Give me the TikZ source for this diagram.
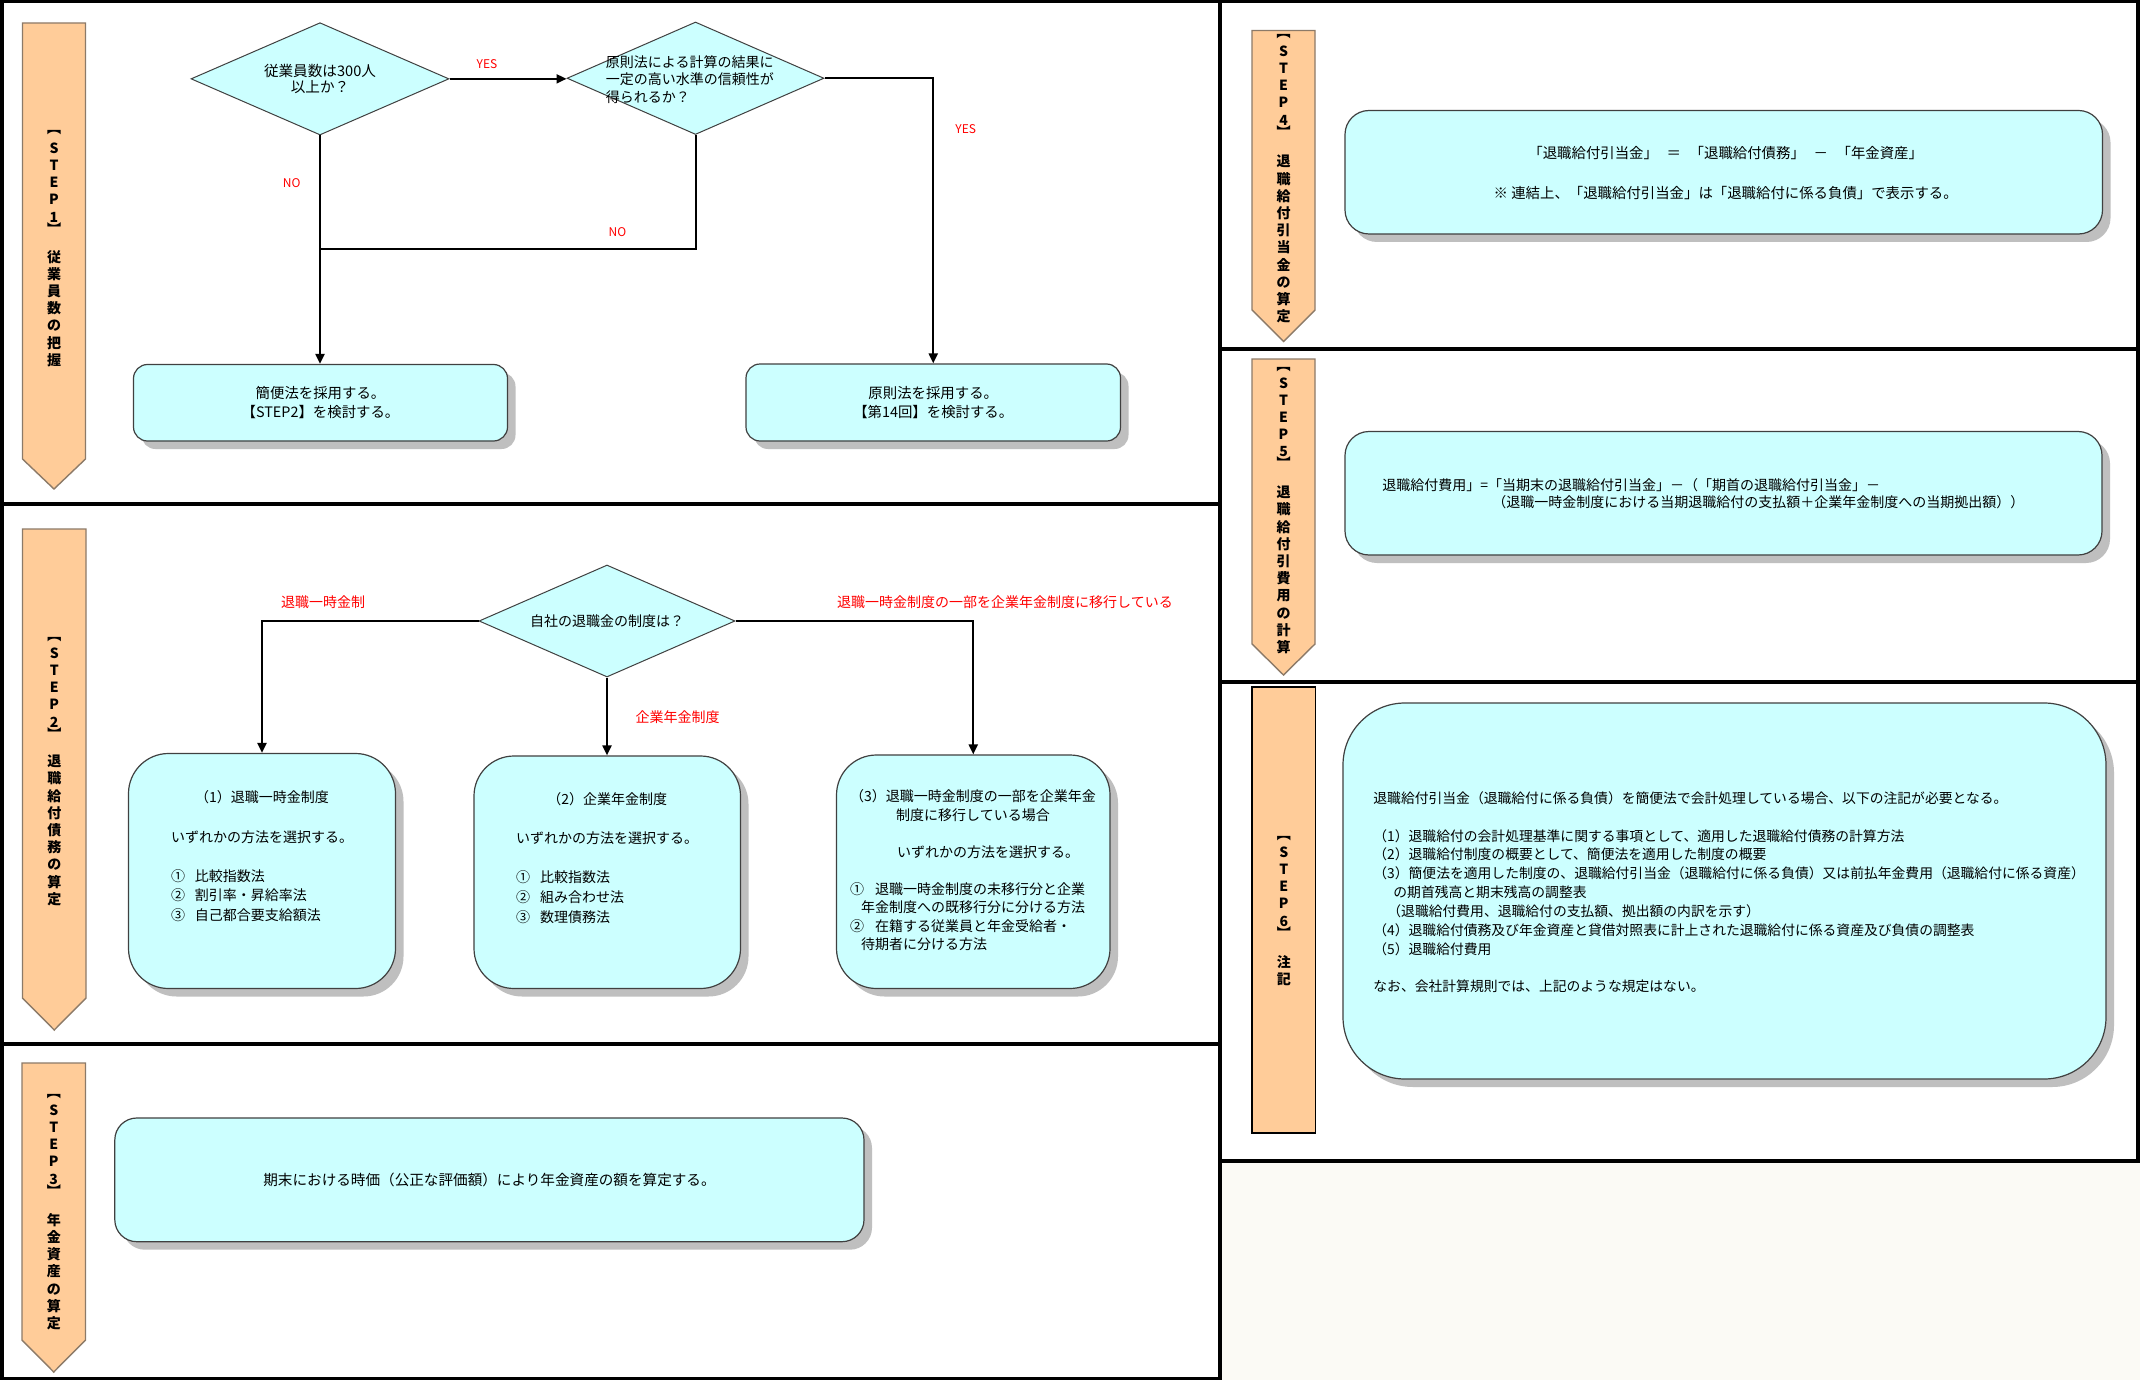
\documentclass[tikz,border=0pt]{standalone}
\usepackage{fontspec}
\setmainfont{Noto Sans CJK JP}
\usetikzlibrary{arrows.meta,shapes.geometric,shadows}
\definecolor{cyanfill}{HTML}{CCFFFF}
\definecolor{orangefill}{HTML}{FFCC99}
\definecolor{bannerline}{RGB}{140,122,104}
\definecolor{offwhite}{HTML}{FBFAF5}
\definecolor{shadowgray}{HTML}{BFBFBF}
\definecolor{boxline}{HTML}{404040}
\definecolor{labelred}{HTML}{FF0000}
\newcommand\mytabc[1]{\begin{tabular}{@{}c@{}}#1\end{tabular}}
\newcommand\mytabl[1]{\begin{tabular}{@{}l@{}}#1\end{tabular}}
\newcommand\stepbanner[5]{\filldraw[bannerst] (#1,#3) -- (#2,#3) -- (#2,#4) -- ({(#1+#2)/2},#5) -- (#1,#4) -- cycle;}
\newcommand\steplabels[8]{%
  \node[bantext] (#1a) at (#2,#3) {︻};
  \node[bantext] (#1b) at (#2,#4) {\mytabc{S\\T\\E\\P\\#5}};
  \node[bantext] (#1c) at (#2,#6) {︼};
  \node[bantext] (#1d) at (#2,#7) {\mytabc{#8}};}
\begin{document}
\begin{tikzpicture}[x=0.5pt,y=-0.5pt,
  panel/.style={line width=2pt,draw=black},
  bannerst/.style={fill=orangefill,draw=bannerline,line width=0.7pt},
  rbox/.style={draw=boxline,line width=0.6pt,fill=cyanfill,rectangle,inner sep=0pt,
    drop shadow={shadow xshift=4pt,shadow yshift=-4pt,fill=shadowgray,opacity=1}},
  dia/.style={diamond,draw=boxline,line width=0.5pt,fill=cyanfill,inner sep=0pt},
  conn/.style={line width=1pt,draw=black},
  arr/.style={conn,-{Triangle[length=5pt,width=4.5pt]}},
  yn/.style={text=labelred,font=\fontsize{6}{7}\selectfont,inner sep=0pt},
  rlab/.style={text=labelred,font=\fontsize{7}{8}\selectfont,inner sep=0pt},
  txt/.style={inner sep=0pt},
  bantext/.style={inner sep=0pt,font=\bfseries\fontsize{7}{8.6}\selectfont},
]
\useasboundingbox (0,0) rectangle (2140,1380);
\fill[white] (0,0) rectangle (2140,1380);
\fill[offwhite] (1222,1163) rectangle (2140,1380);
% panels
\draw[panel] (1.5,1.5) rectangle (1220,1378.5);
\draw[panel] (0,504) -- (1220,504);
\draw[panel] (0,1044) -- (1220,1044);
\draw[panel] (1220,1.5) -- (2137.5,1.5) -- (2137.5,1161) -- (1220,1161);
\draw[panel] (1220,349) -- (2137.5,349);
\draw[panel] (1220,682) -- (2137.5,682);
% banners
\stepbanner{22.5}{85.5}{23}{459}{489}
\stepbanner{22.5}{86}{529}{998}{1030}
\stepbanner{22}{85.5}{1063}{1340}{1372}
\stepbanner{1252}{1315}{30.5}{310}{341.5}
\stepbanner{1252}{1315}{359}{644}{675}
\filldraw[bannerst,draw=black] (1252,687) rectangle (1315.5,1133);
\steplabels{st1}{54}{133}{184.3}{1}{229}{310.3}{従\\業\\員\\数\\の\\把\\握}
\steplabels{st2}{54.25}{640}{689.3}{2}{733.4}{832.1}{退\\職\\給\\付\\債\\務\\の\\算\\定}
\steplabels{st3}{53.75}{1097}{1146.2}{3}{1190.2}{1273.5}{年\\金\\資\\産\\の\\算\\定}
\steplabels{st4}{1283.5}{37}{87.2}{4}{131.2}{240.8}{退\\職\\給\\付\\引\\当\\金\\の\\算\\定}
\steplabels{st5}{1283.5}{370}{419}{5}{463}{571.7}{退\\職\\給\\付\\引\\費\\用\\の\\計\\算}
\steplabels{st6}{1283.75}{839}{888.2}{6}{932.2}{972.7}{注\\記}
% boxes
\node[rbox,rounded corners=7pt,minimum width=187pt,minimum height=38.25pt] (ba) at (320.5,402.75) {};
\node[rbox,rounded corners=7pt,minimum width=187.25pt,minimum height=38.5pt] (bb) at (933.25,402.5) {};
\node[rbox,rounded corners=20pt,minimum width=133.5pt,minimum height=117.5pt] (b1) at (262,871) {};
\node[rbox,rounded corners=20pt,minimum width=133.25pt,minimum height=116.25pt] (b2) at (607.25,872.25) {};
\node[rbox,rounded corners=20pt,minimum width=136.75pt,minimum height=116.75pt] (b3) at (973.25,871.75) {};
\node[rbox,rounded corners=11pt,minimum width=374.6pt,minimum height=61.85pt] (s3b) at (489.4,1179.85) {};
\node[rbox,rounded corners=12pt,minimum width=378.75pt,minimum height=61.75pt] (s4b) at (1723.75,172.25) {};
\node[rbox,rounded corners=12pt,minimum width=378.5pt,minimum height=61.75pt] (s5b) at (1723.5,493.25) {};
\node[rbox,rounded corners=31pt,minimum width=381.5pt,minimum height=188pt] (s6b) at (1724.5,891) {};
% diamonds
\node[dia,minimum width=129pt,minimum height=56.15pt] (d1) at (320,78.85) {};
\node[dia,minimum width=128.5pt,minimum height=56.25pt] (d2) at (695.5,78.25) {};
\node[dia,minimum width=128pt,minimum height=56pt] (d3) at (607,621) {};
% connectors
\coordinate (j1) at (320,249);
\draw[arr] (d1.east) -- (d1.east -| d2.west);
\draw[arr] (d1.south) -- (d1.south |- ba.north);
\draw[conn] (d2.south) |- (j1);
\draw[arr] (d2.east) -| (bb.north);
\draw[arr] (d3.west) -| (b1.north);
\draw[arr] (d3.south) -- (d3.south |- b2.north);
\draw[arr] (d3.east) -| (b3.north);
% labels
\node[yn] (yes1) at (487,64.3) {YES};
\node[yn] (no1) at (291.7,183.3) {NO};
\node[yn] (no2) at (617.5,231.7) {NO};
\node[yn] (yes2) at (965.7,129.3) {YES};
\node[rlab] (l1) at (323,602) {退職一時金制};
\node[rlab] (l2) at (677.5,717) {企業年金制度};
\node[rlab] (l3) at (1005,602) {退職一時金制度の一部を企業年金制度に移行している};
% texts
\node[txt,font=\fontsize{7.3}{6}\selectfont] (d1t) at (320,80.1) {\mytabc{従業員数は300人\\以上か？}};
\node[txt,anchor=west,font=\fontsize{7}{8.75}\selectfont] (d2t) at (605.5,81.25) {\mytabl{原則法による計算の結果に\\一定の高い水準の信頼性が\\得られるか？}};
\node[txt,font=\fontsize{7}{9.5}\selectfont] (d3t) at (607,621) {自社の退職金の制度は？};
\node[txt,font=\fontsize{7.2}{9.5}\selectfont] (bat) at (320.5,404.1) {\mytabc{簡便法を採用する。\\【STEP2】を検討する。}};
\node[txt,font=\fontsize{7.2}{9.5}\selectfont] (bbt) at (933.25,404.6) {\mytabc{原則法を採用する。\\【第14回】を検討する。}};
\node[txt,font=\fontsize{7}{9.8}\selectfont] (b1t) at (262,857.8) {\mytabl{\multicolumn{1}{@{}c@{}}{（1）退職一時金制度}\\ \\ いずれかの方法を選択する。\\ \\ ①\hspace{5pt}比較指数法\\ ②\hspace{5pt}割引率・昇給率法\\ ③\hspace{5pt}自己都合要支給額法}};
\node[txt,font=\fontsize{7}{9.8}\selectfont] (b2t) at (607.2,859.3) {\mytabl{\multicolumn{1}{@{}c@{}}{（2）企業年金制度}\\ \\ いずれかの方法を選択する。\\ \\ ①\hspace{5pt}比較指数法\\ ②\hspace{5pt}組み合わせ法\\ ③\hspace{5pt}数理債務法}};
\node[txt,font=\fontsize{7}{9.25}\selectfont] (b3t) at (973,872) {\mytabl{（3）退職一時金制度の一部を企業年金\\ \multicolumn{1}{@{}c@{}}{制度に移行している場合}\\ \\ \hspace{23.5pt}いずれかの方法を選択する。\\ \\ ①\hspace{5.5pt}退職一時金制度の未移行分と企業\\ \hspace{5.5pt}年金制度への既移行分に分ける方法\\ ②\hspace{5.5pt}在籍する従業員と年金受給者・\\ \hspace{5.5pt}待期者に分ける方法}};
\node[txt,font=\fontsize{7.3}{9}\selectfont] (s3t) at (489.5,1180) {期末における時価（公正な評価額）により年金資産の額を算定する。};
\node[txt,font=\fontsize{7.2}{9.925}\selectfont] (s4t) at (1725.7,174.3) {\mytabc{「退職給付引当金」\hspace{0.6em}＝\hspace{0.6em}「退職給付債務」\hspace{0.6em}－\hspace{0.6em}「年金資産」\\ \\ ※ 連結上、「退職給付引当金」は「退職給付に係る負債」で表示する。}};
\node[txt,anchor=west,font=\fontsize{7}{8.15}\selectfont] (s5t) at (1382,495.8) {\mytabl{退職給付費用」=「当期末の退職給付引当金」－（「期首の退職給付引当金」－\\ \hspace{55pt}（退職一時金制度における当期退職給付の支払額＋企業年金制度への当期拠出額））}};
\node[txt,anchor=west,font=\fontsize{6.9}{9.42}\selectfont] (s6t) at (1373,893.9) {\mytabl{退職給付引当金（退職給付に係る負債）を簡便法で会計処理している場合、以下の注記が必要となる。\\ \\ （1）退職給付の会計処理基準に関する事項として、適用した退職給付債務の計算方法\\ （2）退職給付制度の概要として、簡便法を適用した制度の概要\\ （3）簡便法を適用した制度の、退職給付引当金（退職給付に係る負債）又は前払年金費用（退職給付に係る資産）\\ \hspace{10pt}の期首残高と期末残高の調整表\\ \hspace{7pt}（退職給付費用、退職給付の支払額、拠出額の内訳を示す）\\ （4）退職給付債務及び年金資産と貸借対照表に計上された退職給付に係る資産及び負債の調整表\\ （5）退職給付費用\\ \\ なお、会社計算規則では、上記のような規定はない。}};
\end{tikzpicture}
\end{document}
